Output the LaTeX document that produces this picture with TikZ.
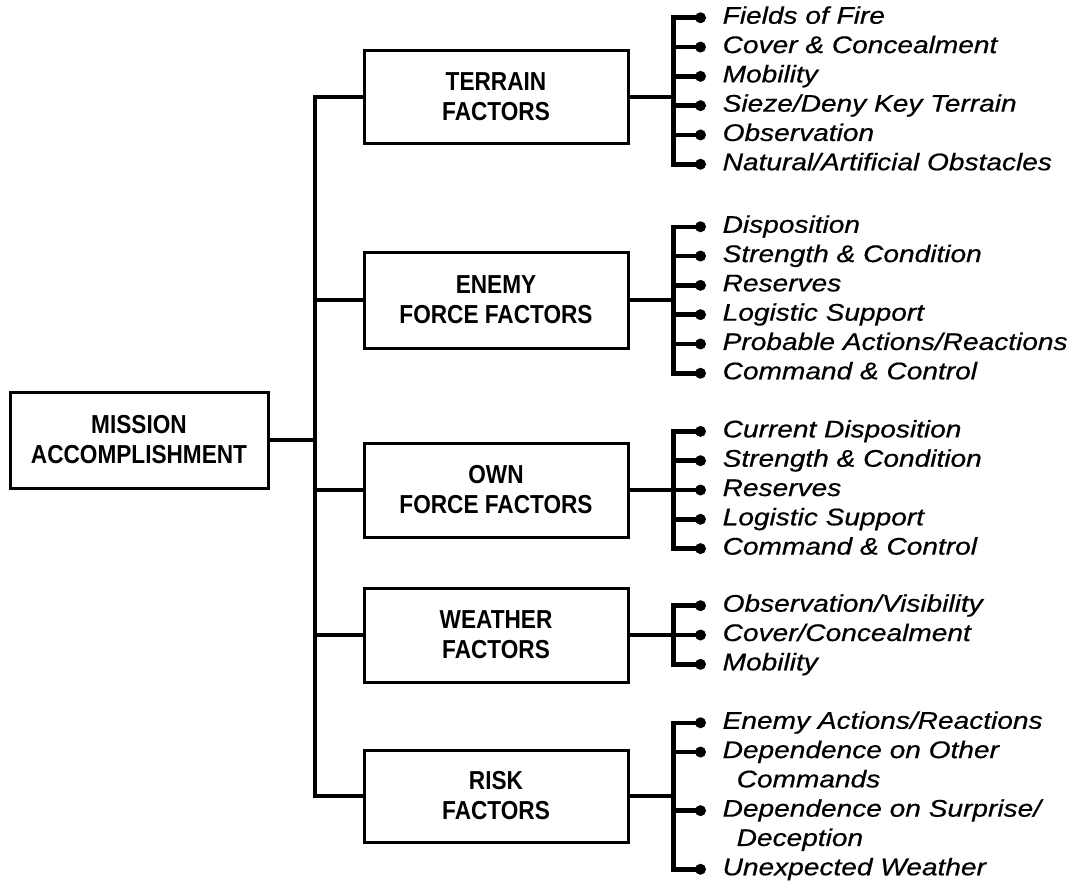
\documentclass[tikz,border=0pt]{standalone}
\usepackage{fontspec}
\newfontfamily\boxfont[FakeStretch=0.87]{Liberation Sans}
\newfontfamily\itemfont[FakeStretch=1.17, FakeBold=0.6]{Liberation Sans}
\usetikzlibrary{matrix,positioning}
\tikzset{
  factor/.style={rectangle, draw=black, line width=3pt, minimum width=264pt, minimum height=92pt, inner sep=0pt, align=center, font=\boxfont\bfseries\fontsize{26}{30}\selectfont},
  link/.style={draw, black, line width=4.5pt},
}

\begin{document}
\begin{tikzpicture}[x=1pt, y=-1pt,
            items/.style={matrix of nodes, anchor=west, inner sep=0pt, row sep=0pt, nodes={anchor=west, inner sep=0pt, text height=17pt, text depth=5pt, minimum height=29.3pt, font=\itemfont\itshape\fontsize{24}{26}\selectfont}}]
            \useasboundingbox (0,0) rectangle (1078,888);

            \node[factor, minimum width=258pt, minimum height=96pt] (mission) at (139,440) {MISSION\\ACCOMPLISHMENT};
            \node[factor] (terrain) at (496,97) {TERRAIN\\FACTORS};
            \node[factor, minimum height=96pt] (enemy) at (496,300) {ENEMY\\FORCE FACTORS};
            \node[factor, minimum height=94pt] (own) at (496,490) {OWN\\FORCE FACTORS};
            \node[factor, minimum height=94pt] (weather) at (496,635) {WEATHER\\FACTORS};
            \node[factor] (risk) at (496,796) {RISK\\FACTORS};

            \matrix (terrain-items) [items, right=93pt of terrain, yshift=6pt]
            {
                Fields of Fire \\
                Cover \& Concealment \\
                Mobility \\
                Sieze/Deny Key Terrain \\
                Observation \\
                Natural/Artificial Obstacles \\
            };
            \matrix (enemy-items) [items, right=93pt of enemy]
            {
                Disposition \\
                Strength \& Condition \\
                Reserves \\
                Logistic Support \\
                Probable Actions/Reactions \\
                Command \& Control \\
            };
            \matrix (own-items) [items, right=93pt of own]
            {
                Current Disposition \\
                Strength \& Condition \\
                Reserves \\
                Logistic Support \\
                Command \& Control \\
            };
            \matrix (weather-items) [items, right=93pt of weather]
            {
                Observation/Visibility \\
                Cover/Concealment \\
                Mobility \\
            };
            \matrix (risk-items) [items, right=93pt of risk]
            {
                Enemy Actions/Reactions \\
                Dependence on Other \\
                \hspace*{14pt}Commands \\
                Dependence on Surprise/ \\
                \hspace*{14pt}Deception \\
                Unexpected Weather \\
            };

            % left side: trunk and branches
            \coordinate (trunk) at (315,0);
            \draw [link] (terrain.west) -| (trunk |- risk.west) -- (risk.west);
            \foreach \b in {enemy,own,weather}
                \draw [link] (\b.west) -- (\b.west -| trunk);
            \draw [link] (mission.east) -- (mission.east -| trunk);

            % right side: brackets with dots
            \foreach \g/\n in {terrain/6,enemy/6,own/5,weather/3,risk/6} {
                \coordinate (\g-bar) at ([xshift=-49pt]\g-items.west);
                \draw [link] (\g.east) -- (\g.east -| \g-bar);
                \draw [link] ([xshift=-22pt]\g-items-1-1.west) -| (\g-bar |- \g-items-\n-1.west) -- ([xshift=-22pt]\g-items-\n-1.west);
                \fill ([xshift=-22pt]\g-items-1-1.west) circle (5.5pt);
                \fill ([xshift=-22pt]\g-items-\n-1.west) circle (5.5pt);
            }
            \foreach \g/\r in {terrain/2,terrain/3,terrain/4,terrain/5,enemy/2,enemy/3,enemy/4,enemy/5,own/2,own/3,own/4,weather/2,risk/2,risk/4} {
                \draw [link] ([xshift=-22pt]\g-items-\r-1.west) -- (\g-bar |- \g-items-\r-1.west);
                \fill ([xshift=-22pt]\g-items-\r-1.west) circle (5.5pt);
            }
\end{tikzpicture}
\end{document}
